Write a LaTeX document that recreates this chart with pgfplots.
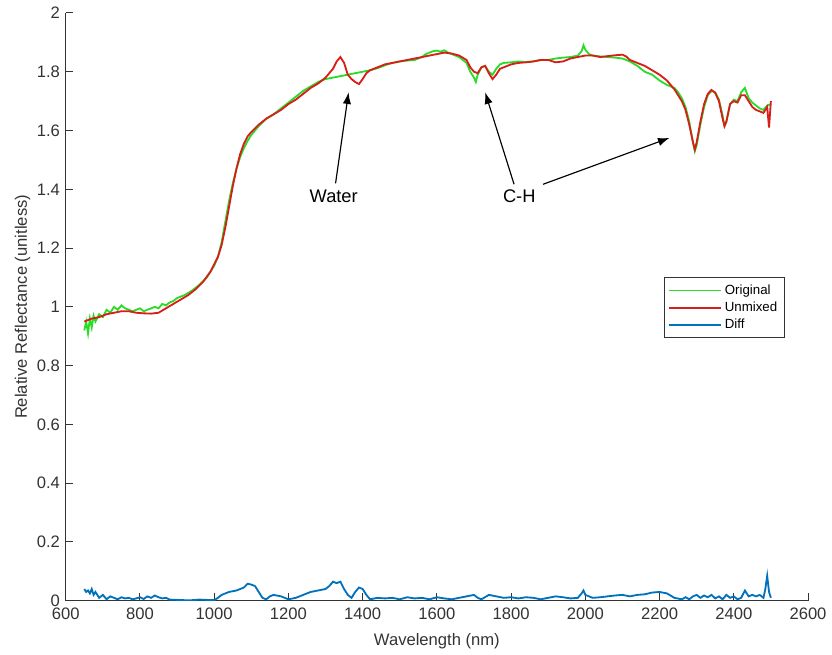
\documentclass[border=0pt]{standalone}
\usepackage{fontspec}
\setmainfont{Liberation Sans}
\usepackage{pgfplots}
\pgfplotsset{compat=1.18}
\usetikzlibrary{arrows.meta}
\definecolor{mgreen}{RGB}{40,220,40}
\definecolor{mred}{RGB}{215,30,25}
\definecolor{mblue}{RGB}{0,114,189}
\pgfplotstableread{
x y
650 0.95
670 0.96
690 0.965
710 0.975
730 0.98
750 0.985
770 0.985
790 0.98
810 0.978
830 0.977
850 0.98
870 0.995
890 1.01
910 1.025
930 1.04
950 1.06
970 1.085
990 1.12
1010 1.17
1020 1.21
1030 1.27
1040 1.34
1050 1.41
1060 1.47
1070 1.52
1080 1.555
1090 1.58
1100 1.595
1120 1.62
1140 1.64
1160 1.655
1180 1.67
1200 1.69
1220 1.705
1240 1.725
1260 1.745
1280 1.76
1300 1.78
1310 1.795
1320 1.81
1330 1.835
1340 1.85
1350 1.83
1360 1.79
1370 1.775
1380 1.765
1390 1.758
1400 1.775
1410 1.795
1420 1.805
1440 1.815
1460 1.825
1480 1.83
1500 1.835
1520 1.84
1540 1.845
1560 1.85
1580 1.855
1600 1.86
1620 1.865
1640 1.862
1660 1.855
1680 1.84
1690 1.815
1700 1.8
1710 1.795
1720 1.815
1730 1.82
1740 1.795
1750 1.775
1760 1.79
1770 1.81
1780 1.815
1800 1.825
1820 1.83
1840 1.832
1860 1.835
1880 1.84
1900 1.84
1920 1.832
1940 1.835
1960 1.845
1980 1.85
2000 1.855
2020 1.855
2040 1.85
2060 1.853
2080 1.856
2100 1.858
2110 1.852
2120 1.84
2140 1.83
2160 1.82
2180 1.805
2200 1.79
2220 1.77
2240 1.74
2260 1.70
2270 1.67
2280 1.62
2290 1.56
2295 1.535
2300 1.56
2310 1.63
2320 1.69
2330 1.725
2340 1.738
2350 1.728
2360 1.70
2370 1.64
2375 1.615
2380 1.63
2390 1.69
2400 1.70
2410 1.695
2420 1.72
2430 1.72
2440 1.70
2450 1.68
2460 1.67
2470 1.665
2480 1.66
2490 1.68
2495 1.61
2500 1.70
}\unmixed
\pgfplotstableread{
x y
650 0.92
655 0.95
660 0.91
665 0.96
670 0.93
675 0.97
680 0.95
690 0.975
700 0.965
710 0.99
720 0.98
730 1.0
740 0.99
750 1.005
760 0.995
770 0.99
780 0.985
790 0.99
800 0.995
810 0.985
820 0.99
830 0.995
840 1.0
850 0.995
860 1.01
870 1.005
880 1.015
890 1.02
900 1.03
920 1.04
940 1.055
960 1.075
980 1.1
1000 1.14
1010 1.17
1020 1.22
1030 1.29
1040 1.36
1050 1.42
1060 1.47
1070 1.51
1080 1.54
1090 1.565
1100 1.585
1120 1.615
1140 1.64
1160 1.655
1180 1.675
1200 1.695
1220 1.715
1240 1.735
1260 1.75
1280 1.765
1300 1.775
1320 1.78
1340 1.785
1360 1.79
1380 1.795
1400 1.80
1420 1.805
1440 1.812
1460 1.822
1480 1.83
1500 1.835
1520 1.838
1540 1.84
1560 1.85
1570 1.86
1580 1.865
1590 1.87
1600 1.872
1610 1.868
1620 1.873
1630 1.865
1640 1.86
1660 1.85
1680 1.83
1690 1.80
1700 1.78
1705 1.765
1710 1.79
1720 1.815
1730 1.82
1740 1.80
1750 1.79
1760 1.81
1770 1.825
1780 1.83
1800 1.832
1820 1.835
1840 1.833
1860 1.835
1880 1.84
1900 1.84
1920 1.845
1940 1.848
1960 1.85
1980 1.855
1990 1.87
1995 1.89
2000 1.875
2010 1.86
2020 1.855
2040 1.852
2060 1.85
2080 1.848
2100 1.845
2120 1.835
2140 1.82
2160 1.80
2180 1.79
2200 1.77
2220 1.755
2240 1.745
2250 1.73
2260 1.71
2270 1.68
2280 1.63
2290 1.56
2295 1.53
2300 1.55
2310 1.62
2320 1.68
2330 1.72
2340 1.735
2350 1.73
2360 1.705
2370 1.65
2375 1.615
2380 1.63
2390 1.69
2400 1.705
2410 1.70
2420 1.73
2430 1.745
2440 1.71
2450 1.695
2460 1.685
2470 1.675
2480 1.67
2490 1.685
2500 1.69
}\original
\pgfplotstableread{
x y
650 0.04
655 0.03
660 0.035
665 0.025
670 0.04
675 0.02
680 0.03
690 0.01
700 0.02
710 0.005
720 0.015
730 0.01
740 0.005
750 0.012
760 0.008
770 0.01
780 0.005
790 0.008
800 0.012
810 0.006
820 0.015
830 0.01
840 0.018
850 0.012
860 0.008
870 0.01
880 0.004
900 0.003
920 0.002
940 0.002
960 0.004
980 0.003
1000 0.002
1010 0.01
1020 0.02
1040 0.03
1060 0.035
1080 0.045
1090 0.058
1100 0.055
1110 0.05
1120 0.03
1130 0.01
1140 0.005
1150 0.015
1160 0.02
1180 0.015
1200 0.005
1220 0.01
1240 0.02
1260 0.03
1280 0.035
1300 0.04
1310 0.05
1320 0.065
1330 0.06
1340 0.065
1350 0.04
1360 0.02
1370 0.01
1380 0.03
1390 0.045
1400 0.04
1410 0.02
1420 0.005
1440 0.01
1460 0.008
1480 0.01
1500 0.005
1520 0.012
1540 0.008
1560 0.01
1580 0.005
1600 0.012
1620 0.008
1640 0.005
1660 0.01
1680 0.015
1700 0.02
1710 0.01
1720 0.005
1740 0.02
1760 0.015
1780 0.01
1800 0.012
1820 0.008
1840 0.012
1860 0.01
1880 0.005
1900 0.01
1920 0.015
1940 0.012
1960 0.008
1980 0.01
1990 0.025
1995 0.035
2000 0.02
2020 0.01
2040 0.012
2060 0.015
2080 0.018
2100 0.02
2120 0.015
2140 0.02
2160 0.022
2180 0.028
2200 0.03
2220 0.025
2240 0.01
2260 0.005
2270 0.012
2280 0.005
2290 0.015
2300 0.02
2310 0.01
2320 0.018
2330 0.012
2340 0.02
2350 0.008
2360 0.015
2370 0.005
2380 0.02
2390 0.01
2400 0.015
2410 0.005
2420 0.01
2430 0.035
2440 0.015
2450 0.02
2460 0.015
2470 0.02
2480 0.01
2485 0.04
2490 0.085
2495 0.03
2500 0.01
}\diff
\begin{document}
\begin{tikzpicture}
\begin{axis}[
  scale only axis, width=447pt, height=354pt,
  xmin=600, xmax=2600, ymin=0, ymax=2,
  axis x line*=bottom, axis y line*=left,
  axis line style={line width=0.6pt, draw=black!80},
  tick align=inside, major tick length=4.5pt,
  tick style={line width=0.6pt, black!80},
  xtick={600,800,1000,1200,1400,1600,1800,2000,2200,2400,2600},
  ytick={0,0.2,0.4,0.6,0.8,1,1.2,1.4,1.6,1.8,2},
  /pgf/number format/1000 sep={},
  /pgf/number format/assume math mode=true,
  ticklabel style={font=\fontsize{10}{12}\selectfont, text=black!80},
  xticklabel style={yshift=-1pt},
  label style={font=\fontsize{10}{12}\selectfont, text=black!80},
  xlabel={Wavelength (nm)},
  ylabel={Relative Reflectance (unitless)},
  xlabel style={yshift=-1pt},
  ylabel style={yshift=-3pt},
  legend style={at={(axis cs:2536,1.10)}, anchor=north east,
    font=\fontsize{8}{9.5}\selectfont, draw=black!80, inner sep=2pt,
    row sep=-1pt, cells={anchor=west}},
  legend image code/.code={\draw[#1] (0cm,0cm) -- (1.1cm,0cm);},
]
\addplot[mgreen, line width=1.1pt] table[x=x,y=y] {\original};
\addlegendentry{Original}
\addplot[mred, line width=1.1pt] table[x=x,y=y] {\unmixed};
\addlegendentry{Unmixed}
\addplot[mblue, line width=1.1pt] table[x=x,y=y] {\diff};
\addlegendentry{Diff}
\node[font=\fontsize{11}{13}\selectfont] at (axis cs:1322,1.376) {Water};
\node[font=\fontsize{11}{13}\selectfont] at (axis cs:1822,1.376) {C-H};
\draw[-{Latex[length=7pt,width=5pt]}, line width=0.7pt] (axis cs:1327,1.42) -- (axis cs:1362,1.73);
\draw[-{Latex[length=7pt,width=5pt]}, line width=0.7pt] (axis cs:1808,1.417) -- (axis cs:1730,1.73);
\draw[-{Latex[length=7pt,width=5pt]}, line width=0.7pt] (axis cs:1886,1.417) -- (axis cs:2227,1.575);
\coordinate (O) at (rel axis cs:0,0);
\coordinate (T) at (rel axis cs:1,1);
\end{axis}
\useasboundingbox ([shift={(-39.6pt,-28.8pt)}]O) rectangle ([shift={(12.6pt,7.8pt)}]T);
\end{tikzpicture}
\end{document}
